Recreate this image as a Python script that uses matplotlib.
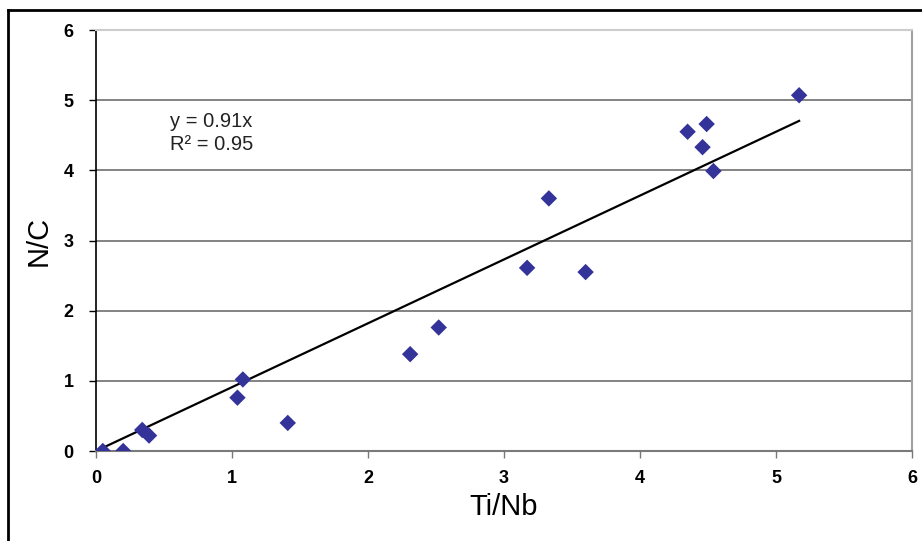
import matplotlib
matplotlib.use("Agg")
import matplotlib.pyplot as plt
from matplotlib.lines import Line2D

plt.rcParams['font.family'] = ['Liberation Sans', 'DejaVu Sans']

ti_nb = [0.05, 0.20, 0.34, 0.39, 1.04, 1.08, 1.41, 2.31, 2.52, 3.17,
         3.33, 3.60, 4.35, 4.49, 4.46, 4.54, 5.17]
n_c = [0.00, 0.00, 0.30, 0.22, 0.76, 1.02, 0.40, 1.38, 1.76, 2.61,
       3.60, 2.55, 4.55, 4.66, 4.33, 3.99, 5.07]

slope = 0.91
fit_x = [0.0, 5.17]
fit_y = [slope * v for v in fit_x]

xticks = [0, 1, 2, 3, 4, 5, 6]
yticks = [0, 1, 2, 3, 4, 5, 6]

fig = plt.figure(figsize=(9.22, 5.41), dpi=100)
ax = fig.add_axes([96 / 922, 1 - 451 / 541, 816 / 922, 421 / 541])

# horizontal gridlines
for yv in yticks[1:-1]:
    ax.axhline(yv, color='#7a7a7a', lw=1.3, zorder=1)

ax.plot(fit_x, fit_y, color='black', lw=1.6, zorder=2)
ax.scatter(ti_nb, n_c, marker='D', s=70, color='#33339a', edgecolors='none', zorder=3)

ax.set_xlim(0, 6)
ax.set_ylim(0, 6)
ax.set_xticks(xticks)
ax.set_yticks(yticks)
ax.tick_params(axis='both', direction='out', length=5, width=1, labelsize=13)
ax.tick_params(axis='x', colors='#777777', labelcolor='black', pad=9)
ax.tick_params(axis='y', pad=11)
for lab in ax.get_xticklabels() + ax.get_yticklabels():
    lab.set_fontweight('bold')

ax.spines['left'].set_color('black')
ax.spines['left'].set_linewidth(1.2)
ax.spines['bottom'].set_color('#7a7a7a')
ax.spines['bottom'].set_linewidth(1.5)
ax.spines['right'].set_color('#a0a0a0')
ax.spines['right'].set_linewidth(1.5)
ax.spines['top'].set_color('#cccccc')
ax.spines['top'].set_linewidth(1.5)

ax.set_xlabel('Ti/Nb', fontsize=21, labelpad=4)
ax.set_ylabel('N/C', fontsize=21, labelpad=8)

ax.text(0.545, 4.53, 'y = 0.91x\nR² = 0.95', fontsize=14.5, color='#222222',
        va='center', ha='left', linespacing=1.25)

# outer frame (top and left edges)
fig.add_artist(Line2D([8 / 922, 1.0], [1 - 10 / 541, 1 - 10 / 541], color='black', lw=2))
fig.add_artist(Line2D([8 / 922, 8 / 922], [0.0, 1 - 10 / 541], color='black', lw=2))

fig.savefig('out.png', dpi=100)
